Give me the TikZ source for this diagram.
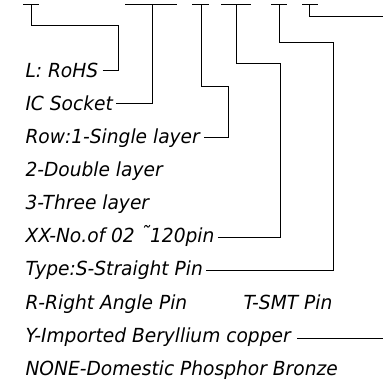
\documentclass[tikz,border=0pt]{standalone}
\usepackage{fontspec}
\setmainfont{DejaVu Sans}[FakeStretch=0.96]
\begin{document}
\begin{tikzpicture}[x=1pt,y=-1pt,line width=1pt,
  txt/.style={anchor=base west,inner sep=0pt,font=\fontsize{19.4}{21}\selectfont\itshape},
  bar/.style={line width=1pt},
  lead/.style={line width=1pt}]
\useasboundingbox (0,0) rectangle (383,382);
% bars
\draw[bar] (23,5) -- (39,5);
\draw[bar] (125,5) -- (177,5);
\draw[bar] (192,5) -- (209,5);
\draw[bar] (221,5) -- (251,5);
\draw[bar] (271,5) -- (287,5);
\draw[bar] (302,5) -- (318,5);
\coordinate (b1) at (31,5);
\coordinate (b2) at (152,5);
\coordinate (b3) at (201,5);
\coordinate (b4) at (236,5);
\coordinate (b5) at (279,5);
\coordinate (b6) at (309,5);
\coordinate (e6) at (383,17);
\coordinate (e9) at (383,0);
% texts
\node[txt] (t1) at (25,78) {L: RoHS};
\node[txt] (t2) at (25,111) {IC Socket};
\node[txt] (t3) at (25,144) {Row:1-Single layer};
\node[txt] (t4) at (25,177) {2-Double layer};
\node[txt] (t5) at (25,210) {3-Three layer};
\node[txt] (t6) at (25,243) {XX-No.of 02 \raisebox{2pt}{\char"02DC}120pin};
\node[txt] (t7) at (25,276) {Type:S-Straight Pin};
\node[txt] (t8) at (25,309) {R-Right Angle Pin};
\node[txt] (t8b) at (243,309) {T-SMT Pin};
\node[txt] (t9) at (25,342) {Y-Imported Beryllium copper};
\node[txt] (t10) at (25,375) {NONE-Domestic Phosphor Bronze};
% leaders
\draw[lead] ([shift={(4,-7)}]t1.base east) -| (118,26) -| (b1);
\draw[lead] ([shift={(3,-7)}]t2.base east) -| (b2);
\draw[lead] ([shift={(4,-6)}]t3.base east) -| (228,87) -| (b3);
\draw[lead] ([shift={(3,-5.5)}]t6.base east) -| (280,64) -| (b4);
\draw[lead] ([shift={(3,-5)}]t7.base east) -| (333,43) -| (b5);
\draw[lead] (b6) |- (e6);
\coordinate (y0) at ([shift={(6,-4)}]t9.base east);
\draw[lead] (y0) -- (y0 -| e9);
\end{tikzpicture}
\end{document}
